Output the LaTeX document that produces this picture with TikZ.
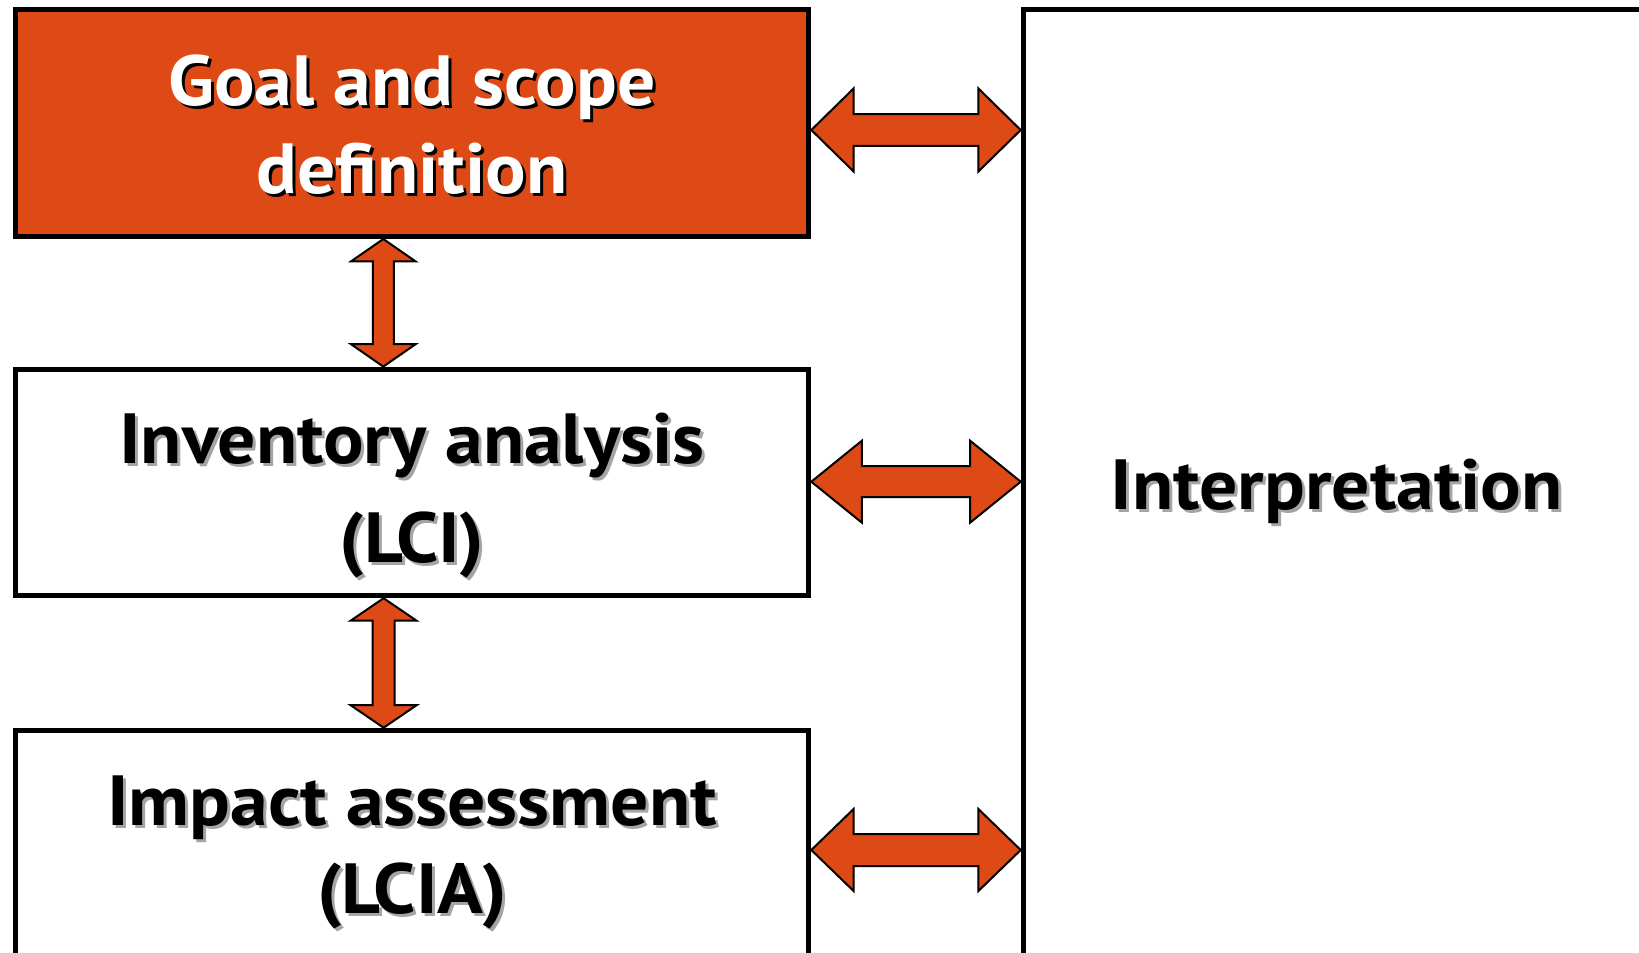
\documentclass[tikz,border=0pt]{standalone}
\usepackage{fontspec}
\setmainfont[FakeStretch=1.065]{PT Sans}
\usetikzlibrary{calc}
\definecolor{lcaorange}{RGB}{221,74,22}
\definecolor{shadowgray}{RGB}{165,165,165}
% text with a drop shadow: #1 text, #2 shadow colour, #3 text colour
\newcommand\shtxt[3]{\makebox[0pt][l]{\hspace{3pt}\raisebox{-3pt}{\textcolor{#2}{#1}}}\textcolor{#3}{#1}}
% struts fixing the height above the first baseline and the depth below the last
\newcommand\topstrut[1]{\rule{0pt}{#1}}
\newcommand\botstrut{\rule[-25pt]{0pt}{0pt}}
% horizontal double block arrow: #1 left tip, #2 right tip, #3 head length, #4 head half height, #5 shaft half height
\newcommand\hdarrow[5]{\draw[blockarrow] let \p1=#1, \p2=#2 in
  (\x1,\y1) -- (\x1+#3,\y1+#4) -- (\x1+#3,\y1+#5) -- (\x2-#3,\y1+#5) -- (\x2-#3,\y1+#4)
  -- (\x2,\y1) -- (\x2-#3,\y1-#4) -- (\x2-#3,\y1-#5) -- (\x1+#3,\y1-#5) -- (\x1+#3,\y1-#4) -- cycle;}
% vertical double block arrow: #1 top tip, #2 bottom tip, #3 head length, #4 head half width, #5 shaft half width
\newcommand\vdarrow[5]{\draw[blockarrow] let \p1=#1, \p2=#2 in
  (\x1,\y1) -- (\x1+#4,\y1-#3) -- (\x1+#5,\y1-#3) -- (\x1+#5,\y2+#3) -- (\x1+#4,\y2+#3)
  -- (\x1,\y2) -- (\x1-#4,\y2+#3) -- (\x1-#5,\y2+#3) -- (\x1-#5,\y1-#3) -- (\x1-#4,\y1-#3) -- cycle;}
\tikzset{
  stage/.style={draw=black, line width=5pt, rectangle, inner sep=0pt,
    minimum width=793.6pt, minimum height=226.6pt, align=center,
    font=\bfseries\fontsize{71}{88}\selectfont},
  blockarrow/.style={draw=black, line width=2pt, fill=lcaorange, line join=miter},
}
\begin{document}
\begin{tikzpicture}[x=1pt,y=-1pt]
\useasboundingbox (0,0) rectangle (1639,953);
\node[stage, fill=lcaorange] (goal) at (412,123.2)
  {\topstrut{77.8pt}\shtxt{Goal and scope}{black}{white}\\\shtxt{definition}{black}{white}\botstrut};
\node[stage, font=\bfseries\fontsize{71}{99}\selectfont] (inv) at (412,482.4)
  {\topstrut{85.2pt}\shtxt{Inventory analysis}{shadowgray}{black}\\\shtxt{(LCI)}{shadowgray}{black}\botstrut};
\node[stage] (impact) at (412,843.5)
  {\topstrut{77.6pt}\shtxt{Impact assessment}{shadowgray}{black}\\\shtxt{(LCIA)}{shadowgray}{black}\botstrut};
\node[stage, minimum width=626.8pt, minimum height=947.5pt] (interp) at (1336.6,483.3)
  {\topstrut{76.4pt}\shtxt{Interpretation}{shadowgray}{black}\botstrut};
% levels of the horizontal arrows
\coordinate (h1) at (0,130);
\coordinate (h2) at (0,481.7);
\coordinate (h3) at (0,850);
\hdarrow{(goal.east |- h1)}{(interp.west |- h1)}{42.3pt}{41.5pt}{15.8pt}
\hdarrow{(inv.east |- h2)}{(interp.west |- h2)}{50.6pt}{41pt}{15.5pt}
\hdarrow{(impact.east |- h3)}{(interp.west |- h3)}{42.3pt}{41pt}{16pt}
\vdarrow{($(goal.south)+(-28.7,0)$)}{($(inv.north)+(-28.7,0)$)}{22.4pt}{32.3pt}{10.5pt}
\vdarrow{($(inv.south)+(-28.4,0)$)}{($(impact.north)+(-28.4,0)$)}{22.5pt}{33pt}{11pt}
\end{tikzpicture}
\end{document}
